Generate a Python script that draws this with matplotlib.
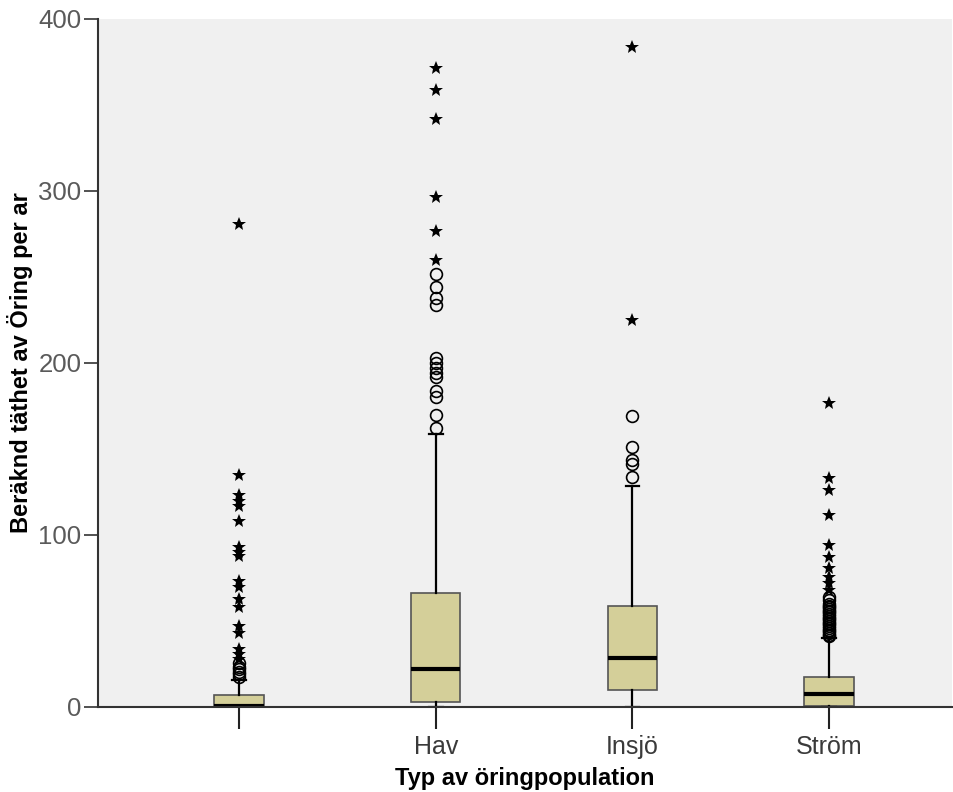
import numpy as np
import matplotlib.pyplot as plt

plt.rcParams['font.family'] = ['Liberation Sans', 'DejaVu Sans']

categories = ['', 'Hav', 'Insjö', 'Ström']

# box statistics per group: lower whisker, q1, median, q3, upper whisker
whislo = [0, 0, 0, 0]
q1 = [0, 3, 10, 0.5]
med = [0.5, 22, 28.5, 7.5]
q3 = [7, 66, 59, 17.4]
whishi = [15.5, 159, 128.5, 40]

# moderate outliers (circles)
circles = [
    [17.5, 19, 20.5, 22, 23.5, 25.5],
    [162, 170, 180, 184, 192, 194, 197, 200, 203, 234, 238, 244, 252],
    [134, 141, 143.5, 151, 169],
    [41, 42, 43, 44, 45, 46, 47, 48, 49, 50, 51, 52, 53, 54, 55, 56, 57,
     58, 59, 60, 62, 64],
]
# extreme values (stars)
stars = [
    [28, 31, 34, 43, 47, 58, 63, 70, 73, 88, 90, 93, 108, 117, 120, 123,
     135, 281],
    [260, 277, 296.5, 342, 359, 371.5],
    [225, 384],
    [68, 72, 75.5, 81, 87, 94, 111.5, 126, 133, 177],
]

positions = np.arange(1, len(categories) + 1)

fig = plt.figure(figsize=(9.54, 7.92), dpi=100)
ax = fig.add_axes([98 / 954, 1 - 707 / 792, 854 / 954, 688 / 792])
ax.set_facecolor('#f0f0f0')

stats = []
for i in range(len(categories)):
    stats.append(dict(whislo=whislo[i], q1=q1[i], med=med[i], q3=q3[i],
                      whishi=whishi[i], fliers=[]))

ax.bxp(stats, positions=positions, widths=0.25, capwidths=0.07,
       patch_artist=True, showfliers=False,
       boxprops=dict(facecolor='#d4cf99', edgecolor='#555555', linewidth=1.2),
       medianprops=dict(color='black', linewidth=3),
       whiskerprops=dict(color='black', linewidth=1.6),
       capprops=dict(color='black', linewidth=1.6), zorder=2)

for i, pos in enumerate(positions):
    ax.plot(np.full(len(circles[i]), pos), circles[i], 'o', ms=8.5,
            mfc='none', mec='black', mew=1.2, zorder=3)
    ax.plot(np.full(len(stars[i]), pos), stars[i], '*', ms=10,
            color='black', mew=0, zorder=3)

ax.set_xlim(0.283, 4.625)
ax.set_ylim(0, 400)
ax.set_yticks([0, 100, 200, 300, 400])
ax.set_xticks(positions)
ax.set_xticklabels(categories)

for s in ['top', 'right']:
    ax.spines[s].set_visible(False)
ax.spines['left'].set_linewidth(1.5)
ax.spines['bottom'].set_linewidth(1.5)
ax.spines['left'].set_color('#333333')
ax.spines['bottom'].set_color('#333333')

ax.tick_params(axis='y', length=10, width=1.2, colors='#333333',
               labelcolor='#5a5a5a', labelsize=18.5, pad=2)
ax.tick_params(axis='x', length=16, width=1.5, colors='#222222',
               labelcolor='#3a3a3a', labelsize=18, pad=4)

ax.set_xlabel('Typ av öringpopulation', fontsize=17, fontweight='bold',
              labelpad=6)
ax.set_ylabel('Beräknd täthet av Öring per ar', fontsize=17,
              fontweight='bold', labelpad=4)

fig.savefig('out.png', dpi=100)
